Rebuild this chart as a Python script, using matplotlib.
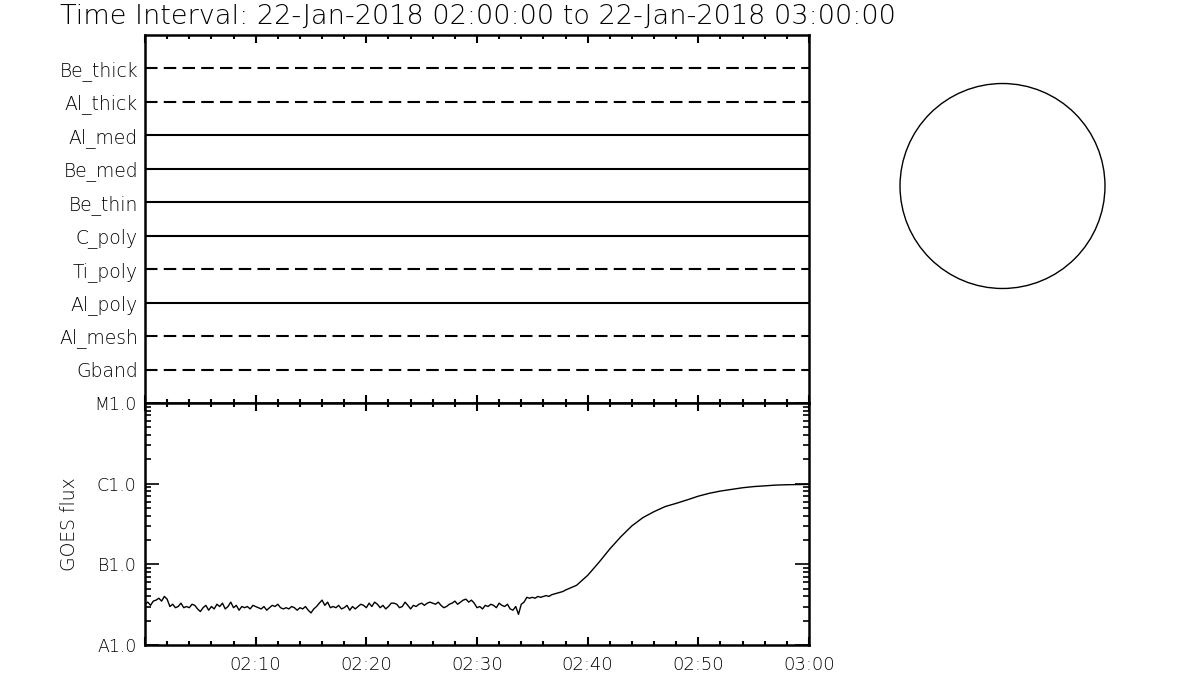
import matplotlib
matplotlib.use('Agg')
import matplotlib.pyplot as plt
import numpy as np
from matplotlib.ticker import FixedLocator, NullFormatter, LogLocator, MultipleLocator
from matplotlib.patches import Circle

# ---------------- data ----------------
title = "Time Interval: 22-Jan-2018 02:00:00 to 22-Jan-2018 03:00:00"

channels = ["Be_thick", "Al_thick", "Al_med", "Be_med", "Be_thin",
            "C_poly", "Ti_poly", "Al_poly", "Al_mesh", "Gband"]
channel_dashed = [True, True, False, False, False, False, True, False, True, True]

time_ticks = [0, 10, 20, 30, 40, 50, 60]          # minutes after 02:00
time_labels = ["", "02:10", "02:20", "02:30", "02:40", "02:50", "03:00"]

goes_ticks = [1e-8, 1e-7, 1e-6, 1e-5]
goes_labels = ["A1.0", "B1.0", "C1.0", "M1.0"]

# GOES flux, quiet part, 15 s cadence from 02:00 (units of 1e-8 W/m^2)
goes_quiet = [
    3.2, 3.4, 3.1, 3.5,  3.6, 3.8, 3.5, 4.0,  3.7, 3.0, 3.2, 2.9,
    3.0, 3.3, 2.9, 3.0,  2.9, 3.2, 3.1, 2.8,  2.6, 2.9, 3.1, 2.7,
    3.0, 2.8, 3.2, 3.0,  3.3, 2.8, 3.0, 3.4,  2.9, 3.1, 2.7, 3.0,
    2.9, 3.0, 2.8, 3.1,  3.0, 2.9, 2.8, 3.0,  2.7, 2.9, 3.1, 3.0,
    3.2, 2.9, 2.8, 2.9,  2.8, 3.0, 2.9, 2.7,  2.9, 2.8, 3.0, 2.7,
    2.5, 2.8, 3.0, 3.3,  3.6, 3.1, 3.4, 2.9,  3.0, 2.9, 3.1, 2.8,
    2.9, 3.1, 2.7, 3.0,  2.8, 3.0, 3.2, 3.1,  2.9, 3.3, 3.0, 3.4,
    3.2, 2.9, 3.1, 2.8,  3.0, 3.3, 3.3, 3.2,  2.9, 3.0, 3.4, 3.1,
    2.8, 3.1, 3.0, 3.2,  3.3, 3.1, 3.3, 3.4,  3.3, 3.2, 3.4, 3.1,
    2.9, 3.0, 3.2, 3.3,  3.5, 3.2, 3.4, 3.6,  3.7, 3.4, 3.6, 3.3,
    2.9, 3.0, 2.8, 3.1,  3.0, 3.2, 3.1, 2.9,  3.3, 3.1, 3.0, 3.2,
    2.8, 2.7, 3.0, 2.4,  3.2, 3.4, 3.9, 3.8,  3.9, 3.8, 4.0, 3.9,
    4.0, 4.1, 4.0, 4.2,  4.3, 4.4, 4.5, 4.6,
]
# GOES flux, rise part, 1 min cadence from 02:38 (units of 1e-8 W/m^2)
goes_rise_t = [38, 39, 40, 41, 42, 43, 44, 45, 46, 47, 48, 49,
               50, 51, 52, 53, 54, 55, 56, 57, 58, 59, 60]
goes_rise = [4.8, 5.5, 7.3, 10.5, 15.5, 22, 30, 38, 45, 52, 57, 63,
             70, 76, 81, 85, 89, 92, 94, 96, 97, 97.5, 98]

t_quiet = np.arange(len(goes_quiet)) * 0.25
goes_t = np.concatenate([t_quiet, goes_rise_t])
goes_flux = np.concatenate([goes_quiet, goes_rise]) * 1e-8

# ---------------- figure ----------------
plt.rcParams['font.family'] = ['DejaVu Sans']
plt.rcParams['font.weight'] = 'light'
plt.rcParams['axes.labelweight'] = 'light'
fig = plt.figure(figsize=(12, 7), dpi=100)
fig.patch.set_facecolor('white')

L, R = 145 / 1200, 809 / 1200
ax1 = fig.add_axes([L, 1 - 403 / 700, R - L, (403 - 35) / 700])
ax2 = fig.add_axes([L, 1 - 645 / 700, R - L, (645 - 403) / 700])

# top panel: channel lines
n = len(channels)
for i, (name, dashed) in enumerate(zip(channels, channel_dashed)):
    y = n - i
    ax1.plot([0, 60], [y, y], color='k', lw=1.5,
             ls=(0, (6, 3)) if dashed else '-')
ax1.set_xlim(0, 60)
ax1.set_ylim(0, n + 1)
ax1.set_yticks([n - i for i in range(n)])
ax1.set_yticklabels(channels, fontsize=13.5, color='k')
ax1.tick_params(axis='y', length=0, pad=5)
ax1.xaxis.set_major_locator(FixedLocator(time_ticks))
ax1.xaxis.set_minor_locator(MultipleLocator(2))
ax1.tick_params(axis='x', which='both', direction='in', top=True, bottom=True,
                labelbottom=False, width=1.5)
ax1.tick_params(axis='x', which='major', length=6)
ax1.tick_params(axis='x', which='minor', length=3)

# bottom panel: GOES
ax2.plot(goes_t, goes_flux, color='k', lw=1.0)
ax2.set_yscale('log')
ax2.set_xlim(0, 60)
ax2.set_ylim(1e-8, 1e-5)
ax2.set_yticks(goes_ticks)
ax2.set_yticklabels(goes_labels, fontsize=12.5)
ax2.yaxis.set_minor_locator(LogLocator(base=10, subs=np.arange(2, 10)))
ax2.yaxis.set_minor_formatter(NullFormatter())
ax2.tick_params(axis='y', which='both', direction='in', left=True, right=True, width=1.2, pad=6)
ax2.tick_params(axis='y', which='major', length=10)
ax2.tick_params(axis='y', which='minor', length=4.5)
ax2.set_xticks(time_ticks)
ax2.set_xticklabels(time_labels, fontsize=13)
ax2.xaxis.set_minor_locator(MultipleLocator(2))
ax2.tick_params(axis='x', which='both', direction='in', top=True, bottom=True, width=1.5, pad=8)
ax2.tick_params(axis='x', which='major', length=6)
ax2.tick_params(axis='x', which='minor', length=3)
ax2.set_ylabel("GOES flux", fontsize=13.5, labelpad=11, fontweight='light')

for ax in (ax1, ax2):
    for s in ax.spines.values():
        s.set_linewidth(1.8)

fig.text(60 / 1200, 1 - 16 / 700, title, fontsize=19.5, ha='left', va='center')

# circle (solar disk outline)
cx, cy, r = 1002.5, 186, 103
axc = fig.add_axes([(cx - r) / 1200, 1 - (cy + r) / 700, 2 * r / 1200, 2 * r / 700])
axc.add_patch(Circle((0, 0), 0.995, fill=False, edgecolor='k', lw=1.0, clip_on=False))
axc.set_xlim(-1, 1)
axc.set_ylim(-1, 1)
axc.axis('off')

fig.savefig('out.png', dpi=100)
